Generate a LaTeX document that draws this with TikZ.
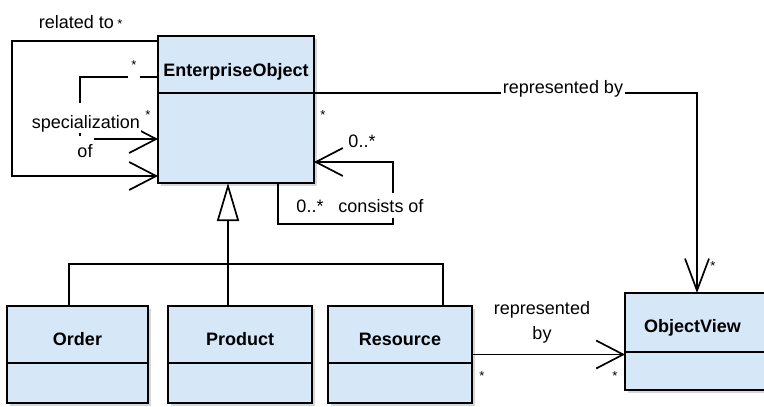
\documentclass[tikz,border=0pt]{standalone}
\usepackage{fontspec}
\setmainfont{Liberation Sans}
\usetikzlibrary{arrows.meta,shadows}

\definecolor{classfill}{HTML}{D6E7F8}

\begin{document}
\begin{tikzpicture}[x=1pt,y=-1pt,
  classbox/.style={rectangle, draw=black, line width=1.8pt, fill=classfill,
    inner sep=0pt, outer sep=0pt, anchor=north west,
    drop shadow={shadow xshift=2.5pt, shadow yshift=-2.5pt, fill=black!16, opacity=1}},
  classtitle/.style={font=\bfseries\fontsize{18}{20}\selectfont, anchor=base, inner sep=0pt},
  lbl/.style={font=\fontsize{18}{20}\selectfont, inner sep=1pt},
  mult/.style={font=\fontsize{13}{14}\selectfont, inner sep=0pt, anchor=base},
  conn/.style={line width=1.7pt, draw=black},
  assoc/.style={conn, -{Straight Barb[length=27pt,width=28pt]}},
  assoclong/.style={conn, -{Straight Barb[length=32pt,width=24pt]}},
  inherit/.style={conn, -{Triangle[open, length=38pt, width=22pt]}},
  sep/.style={line width=1.8pt}
]
\useasboundingbox (0,0) rectangle (764,407);
\clip (0,0) rectangle (764,407);
\fill[white] (0,0) rectangle (764,407);

% class boxes
\node[classbox, minimum width=156pt, minimum height=147pt] (eo) at (158,36) {};
\node[classbox, minimum width=141pt, minimum height=97pt] (order) at (7,306) {};
\node[classbox, minimum width=144pt, minimum height=97pt] (product) at (168,306) {};
\node[classbox, minimum width=144pt, minimum height=97pt] (resource) at (328,306) {};
\node[classbox, minimum width=144pt, minimum height=97pt] (ov) at (625,293) {};

% compartment separators
\draw[sep] ([yshift=-57pt]eo.north west) -- ([yshift=-57pt]eo.north east);
\draw[sep] ([yshift=-57pt]order.north west) -- ([yshift=-57pt]order.north east);
\draw[sep] ([yshift=-57pt]product.north west) -- ([yshift=-57pt]product.north east);
\draw[sep] ([yshift=-57pt]resource.north west) -- ([yshift=-57pt]resource.north east);
\draw[sep] ([yshift=-59pt]ov.north west) -- ([yshift=-59pt]ov.north east);

% class names
\node[classtitle] (eotitle) at (236,76) {EnterpriseObject};
\node[classtitle] (ordertitle) at (77.5,345) {Order};
\node[classtitle] (producttitle) at (240,345) {Product};
\node[classtitle] (resourcetitle) at (400,345) {Resource};
\node[classtitle] (ovtitle) at (692.5,332) {ObjectView};

% self associations of EnterpriseObject
\draw[assoc] ([yshift=-5pt]eo.north west) -- ++(-146,0) |- ([yshift=7pt]eo.south west);
\draw[assoc] ([yshift=-41pt]eo.north west) -- ++(-78,0) |- ([yshift=44pt]eo.south west);
\draw[assoc] ([xshift=120pt]eo.south west) |- ++(115,41) |- ([yshift=21pt]eo.south east);

% EnterpriseObject represented by ObjectView
\draw[assoclong] ([yshift=-57pt]eo.north east) -| (ov.north);

% generalization tree
\coordinate (hub) at (228,264);
\draw[conn] ([xshift=-8.5pt]order.north) |- (hub) -| ([xshift=43pt]resource.north);
\draw[conn] (hub) -- (hub |- product.north);
\draw[inherit] (hub) -- (hub |- eo.south);

% Resource represented by ObjectView
\coordinate (ovin) at ([yshift=-13pt]ov.west);
\draw[assoc] (resource.east |- ovin) -- (ovin);

% association labels
\node[lbl, anchor=base] (lrel) at (76.5,28) {related to};
\node[mult] (mrel) at (120,28) {*};
\node[mult, fill=white, minimum width=12pt, text depth=10pt] (mspectop) at (134,69) {*};
\node[lbl, anchor=base, fill=white, text height=24pt] (lspec) at (86,128) {specialization};
\node[lbl, anchor=base, fill=white, text height=20pt] (lof) at (85,157) {of};
\node[mult] (mspec) at (148,119) {*};
\node[mult] (meo) at (323,119) {*};
\node[lbl, anchor=base] (lcons1) at (362,147) {0..*};
\node[lbl, anchor=base] (lcons2) at (310,212) {0..*};
\node[lbl, anchor=base, fill=white, inner xsep=1pt, inner ysep=6pt] (lcons) at (381,212) {consists of};
\node[lbl, anchor=base, fill=white, inner xsep=2pt] (lrep) at (563,93) {represented by};
\node[mult] (mov) at (713,270) {*};
\node[lbl, align=center, font=\fontsize{18}{25}\selectfont] (lrep2) at (542,322) {represented\\by};
\node[mult] (mres) at (482,380) {*};
\node[mult] (movin) at (615,380) {*};
\end{tikzpicture}
\end{document}
